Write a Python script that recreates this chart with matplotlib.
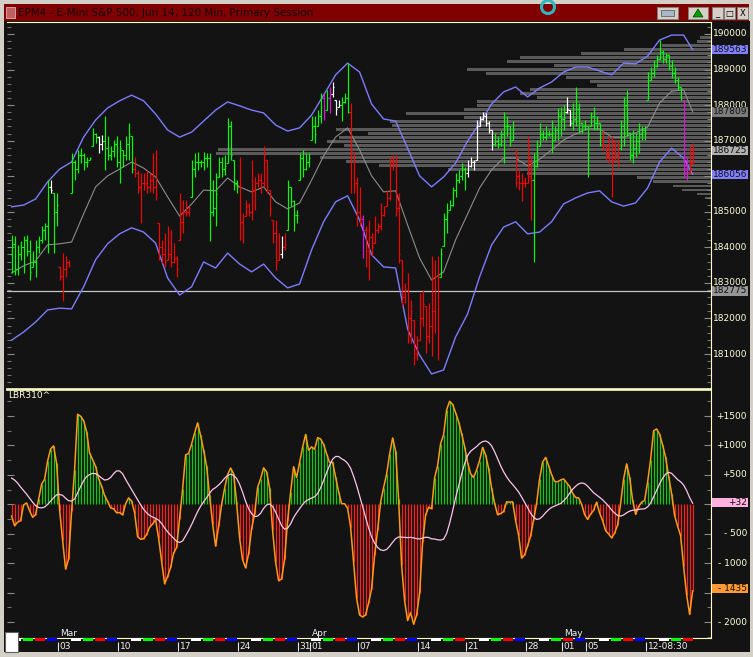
import numpy as np
import pandas as pd
import matplotlib
matplotlib.use("Agg")
import matplotlib.pyplot as plt
from matplotlib.patches import Rectangle, Ellipse, Polygon
from matplotlib.transforms import blended_transform_factory

W, H = 753, 657

# EPM4 120 min bars, primary session, 4 bars per day (Feb 25 - May 15 2014)
highs = [
    1843.5, 1843.1, 1840.7, 1841.7, 1843.1, 1843.5, 1842.1, 1838.9, 1842.1, 1843.1, 1845.9, 1846.8,
    1859.0, 1859.0, 1855.2, 1855.2, 1834.6, 1838.4, 1837.5, 1836.5, 1866.5, 1864.6, 1867.4, 1867.9,
    1866.5, 1865.5, 1865.5, 1873.5, 1872.1, 1871.2, 1871.6, 1876.8, 1871.2, 1868.4, 1870.2, 1871.2,
    1870.2, 1867.4, 1871.2, 1874.9, 1871.2, 1865.5, 1861.8, 1860.9, 1860.9, 1861.8, 1860.9, 1866.5,
    1867.4, 1846.8, 1842.1, 1844.0, 1845.9, 1844.9, 1841.2, 1837.5, 1855.2, 1853.4, 1853.4, 1851.5,
    1864.6, 1866.5, 1866.9, 1864.6, 1866.9, 1866.5, 1866.5, 1859.0, 1860.9, 1865.5, 1865.5, 1866.0,
    1876.3, 1875.4, 1864.6, 1859.0, 1865.5, 1849.6, 1853.4, 1852.4, 1864.6, 1859.9, 1860.9, 1860.9,
    1868.4, 1864.6, 1856.2, 1847.8, 1847.8, 1844.0, 1843.1, 1844.0, 1859.0, 1857.1, 1853.4, 1850.6,
    1866.5, 1867.4, 1866.5, 1866.5, 1876.8, 1876.8, 1878.7, 1883.3, 1883.3, 1884.3, 1885.2, 1886.6,
    1881.5, 1881.5, 1882.4, 1883.3, 1891.8, 1880.5, 1866.5, 1859.9, 1857.1, 1849.2, 1845.9, 1847.8,
    1844.0, 1848.7, 1846.8, 1852.4, 1851.5, 1856.2, 1865.5, 1866.0, 1866.0, 1855.2, 1836.5, 1830.0,
    1832.8, 1825.3, 1819.7, 1815.0, 1827.2, 1828.1, 1823.4, 1824.3, 1837.5, 1836.5, 1837.5, 1839.8,
    1849.6, 1852.4, 1853.4, 1857.1, 1860.9, 1861.8, 1863.7, 1862.7, 1864.6, 1865.5, 1864.6, 1875.8,
    1876.8, 1878.2, 1877.7, 1875.4, 1873.0, 1872.1, 1871.2, 1873.0, 1878.2, 1876.8, 1874.0, 1875.4,
    1867.4, 1861.8, 1860.9, 1859.9, 1871.2, 1865.5, 1866.5, 1870.2, 1874.9, 1873.0, 1874.0, 1873.0,
    1875.8, 1874.0, 1879.1, 1879.6, 1880.0, 1882.4, 1878.7, 1880.5, 1885.2, 1880.5, 1874.9, 1875.8,
    1874.0, 1878.2, 1879.6, 1876.8, 1874.9, 1872.6, 1868.8, 1871.2, 1871.2, 1870.2, 1870.2, 1875.8,
    1882.4, 1884.3, 1872.1, 1873.0, 1872.1, 1874.9, 1874.0, 1874.0, 1889.4, 1890.8, 1892.7, 1894.0,
    1898.3, 1895.5, 1894.6, 1894.1, 1892.7, 1890.8, 1888.0, 1885.2, 1881.5, 1865.5, 1868.4, 1869.3,
]
lows = [
    1832.8, 1832.3, 1832.3, 1836.5, 1832.8, 1837.5, 1830.9, 1834.6, 1831.8, 1838.4, 1841.2, 1842.1,
    1838.4, 1855.2, 1838.4, 1845.9, 1830.9, 1824.8, 1831.8, 1834.6, 1855.2, 1859.0, 1860.9, 1863.7,
    1861.8, 1862.7, 1864.6, 1868.4, 1869.3, 1866.5, 1867.4, 1861.8, 1864.6, 1864.6, 1865.5, 1862.7,
    1858.0, 1862.7, 1864.6, 1864.6, 1860.9, 1859.9, 1855.2, 1846.8, 1856.2, 1855.2, 1855.7, 1855.2,
    1853.4, 1836.5, 1835.6, 1834.6, 1836.5, 1834.6, 1835.6, 1831.8, 1842.1, 1844.0, 1848.7, 1848.7,
    1854.3, 1859.9, 1861.8, 1862.7, 1861.8, 1862.7, 1841.7, 1848.7, 1845.9, 1859.9, 1859.9, 1860.4,
    1863.7, 1864.6, 1856.2, 1855.2, 1842.1, 1841.2, 1848.7, 1848.7, 1847.8, 1850.6, 1857.1, 1855.2,
    1857.1, 1855.2, 1848.7, 1841.2, 1833.7, 1836.5, 1837.0, 1839.3, 1845.0, 1851.5, 1844.5, 1846.8,
    1859.0, 1859.9, 1861.8, 1862.7, 1870.2, 1869.3, 1874.0, 1874.9, 1875.8, 1878.7, 1877.7, 1882.4,
    1877.3, 1879.6, 1875.4, 1880.5, 1877.7, 1855.2, 1855.2, 1845.9, 1845.9, 1837.0, 1834.6, 1830.9,
    1837.5, 1841.2, 1844.0, 1845.0, 1848.7, 1851.5, 1853.4, 1861.8, 1848.7, 1835.6, 1823.4, 1824.4,
    1813.1, 1813.1, 1807.0, 1808.4, 1814.0, 1817.8, 1810.3, 1813.1, 1809.4, 1815.9, 1808.4, 1831.8,
    1840.3, 1844.0, 1850.6, 1851.5, 1854.3, 1858.0, 1859.0, 1856.2, 1859.9, 1862.7, 1861.8, 1864.6,
    1874.0, 1875.8, 1874.0, 1872.1, 1867.4, 1868.4, 1867.9, 1868.4, 1863.7, 1871.2, 1868.4, 1870.2,
    1857.1, 1856.2, 1852.9, 1857.1, 1858.0, 1847.8, 1836.0, 1862.7, 1868.4, 1870.2, 1870.2, 1871.2,
    1866.5, 1870.2, 1870.2, 1871.2, 1873.0, 1877.7, 1874.0, 1873.0, 1874.0, 1872.1, 1872.1, 1873.0,
    1859.9, 1874.0, 1873.0, 1873.0, 1868.4, 1867.4, 1864.6, 1863.7, 1854.3, 1864.6, 1862.7, 1867.4,
    1868.4, 1871.2, 1864.6, 1863.7, 1865.5, 1866.5, 1870.2, 1870.2, 1881.5, 1887.1, 1888.0, 1890.8,
    1892.7, 1891.8, 1891.8, 1890.0, 1887.5, 1886.1, 1884.3, 1881.5, 1859.9, 1859.0, 1860.9, 1863.7,
]
closes = [
    1841, 1834, 1838, 1840, 1842, 1839, 1833, 1836, 1840, 1842, 1845, 1846,
    1857, 1856, 1850, 1852, 1832, 1834, 1836, 1835, 1864, 1862, 1866, 1866,
    1864, 1864, 1865, 1872, 1871, 1869, 1870, 1868, 1866, 1867, 1869, 1864,
    1868, 1866, 1869, 1872, 1862, 1861, 1857, 1858, 1858, 1857, 1859, 1857,
    1855, 1840, 1838, 1836, 1838, 1836, 1837, 1834, 1847, 1850, 1850, 1851,
    1862, 1864, 1864, 1864, 1865, 1865, 1850, 1851, 1855, 1864, 1862, 1863,
    1874, 1866, 1858, 1857, 1847, 1845, 1852, 1850, 1856, 1858, 1859, 1858,
    1866, 1857, 1851, 1844, 1836, 1838, 1840, 1841, 1857, 1853, 1849, 1849,
    1865, 1862, 1864, 1865, 1874, 1872, 1877, 1882, 1878, 1882, 1883, 1885,
    1879, 1880, 1881, 1882, 1878, 1867, 1858, 1850, 1848, 1845, 1839, 1843,
    1840, 1845, 1846, 1849, 1850, 1854, 1864, 1864, 1851, 1838, 1826, 1828,
    1820, 1822, 1810, 1812, 1820, 1824, 1815, 1818, 1822, 1832, 1826, 1838,
    1848, 1850, 1852, 1856, 1859, 1860, 1862, 1861, 1863, 1864, 1864, 1874,
    1876, 1877, 1875, 1873, 1869, 1870, 1869, 1872, 1874, 1874, 1870, 1873,
    1860, 1858, 1858, 1858, 1860, 1859, 1863, 1866, 1872, 1871, 1872, 1872,
    1870, 1873, 1877, 1876, 1878, 1879, 1875, 1876, 1879, 1876, 1874, 1874,
    1872, 1877, 1875, 1875, 1870, 1869, 1866, 1865, 1864, 1866, 1868, 1874,
    1880, 1876, 1866, 1868, 1870, 1872, 1873, 1873, 1887, 1889, 1891, 1893,
    1895, 1893, 1894, 1891, 1889, 1887, 1885, 1882, 1863, 1861, 1862, 1867.25,
]
# g=green, r=red, w=white, m=magenta (paint bar colours)
bar_colors = ("gggggggggggg" "gwggrrrrgggg" "gggggwwggggg" "gggggrrrrrrr"
              "rrrrrrrrrrrr" "gggggggggggg" "ggggrrrrrrrr" "rrrrrrwrgggg"
              "ggggggggmgmw" "wwgggrrrrmrr" "rrrrrrrrrrrr" "rrrrrrrrrrrg"
              "ggggggggwwww" "wwwwwggggggg" "rrrrrrgggggg" "gggggwwggggg"
              "gggggrrrrrrg" "gggggggggggg" "ggggggggmmrr")
# closes before the first visible bar (the oscillator needs them)
warmup = [1812, 1816, 1820, 1818, 1823, 1826, 1830, 1827, 1822, 1818, 1815, 1820, 1826, 1830,
          1834, 1838, 1836, 1840, 1843, 1841, 1844, 1846, 1842, 1839, 1843, 1845, 1841, 1838]

# bands at every 4th bar (and the last bar)
band_upper = [1851.4, 1851.9, 1853.6, 1858.4, 1862.0, 1864.0, 1871.0, 1875.8, 1879.2, 1881.2,
              1882.8, 1881.2, 1877.5, 1873.0, 1871.0, 1872.4, 1875.5, 1878.6, 1880.9, 1879.8,
              1878.6, 1877.8, 1874.4, 1872.7, 1873.6, 1877.2, 1882.8, 1888.5, 1891.8, 1889.3,
              1880.3, 1876.1, 1875.5, 1867.9, 1860.1, 1857.0, 1859.8, 1863.7, 1869.9, 1874.9,
              1880.3, 1883.7, 1885.1, 1882.3, 1884.8, 1886.5, 1889.3, 1890.7, 1890.7, 1889.6,
              1888.5, 1891.8, 1891.6, 1893.8, 1898.3, 1899.7, 1899.7, 1895.6]
band_mid = [1832.8, 1834.8, 1836.2, 1840.7, 1841.0, 1841.5, 1849.4, 1857.0, 1860.1, 1862.0,
            1864.0, 1862.3, 1859.8, 1854.2, 1848.8, 1852.2, 1856.1, 1855.9, 1859.5, 1857.0,
            1855.6, 1857.0, 1852.8, 1850.8, 1852.5, 1858.9, 1865.7, 1871.0, 1873.6, 1867.4,
            1860.1, 1855.6, 1855.9, 1846.3, 1837.0, 1830.8, 1833.1, 1842.1, 1849.4, 1856.7,
            1861.8, 1865.1, 1865.1, 1862.9, 1864.8, 1867.4, 1870.2, 1871.9, 1873.3, 1873.3,
            1871.0, 1871.0, 1872.2, 1873.8, 1880.6, 1883.9, 1884.3, 1878.1]
band_lower = [1813.9, 1816.2, 1819.0, 1822.4, 1822.9, 1822.7, 1828.9, 1836.5, 1841.0, 1843.8,
              1845.5, 1844.3, 1841.2, 1831.4, 1826.6, 1828.9, 1835.9, 1834.2, 1838.4, 1835.3,
              1833.1, 1835.3, 1831.4, 1828.6, 1829.7, 1839.3, 1847.2, 1852.8, 1854.5, 1847.7,
              1837.9, 1834.5, 1834.2, 1817.0, 1809.7, 1804.4, 1805.5, 1814.8, 1821.3, 1831.7,
              1840.7, 1845.7, 1847.2, 1843.8, 1844.3, 1847.2, 1852.2, 1853.9, 1855.3, 1855.9,
              1852.8, 1851.6, 1852.5, 1856.7, 1864.0, 1867.9, 1865.1, 1860.6]

# volume profile (top level 1898.9, one row every 1.125 pts)
profile_top = 1898.9
profile_step = 1.125
profile_vol = [11, 14, 49, 87, 130, 191, 204, 157, 244, 225, 145, 121, 114, 181, 191, 174,
               234, 234, 247, 305, 247, 321, 319, 375, 343, 372, 384, 367, 493, 495, 391, 365,
               332, 263, 184, 74, 58, 38, 29, 14, 6]

hline_price = 1827.75
price_ticks = [1900, 1890, 1880, 1870, 1850, 1840, 1830, 1820, 1810]
price_boxes = [(1895.63, "189563", "#8080ff"), (1878.09, "187809", "#7c7c7c"),
               (1867.25, "186725", "#b0b0b0"), (1860.56, "186056", "#8080ff"),
               (1827.75, "182775", "#969696")]
osc_ticks = [1500, 1000, 500, -500, -1000, -2000]
osc_boxes = [(32, "+32", "#ffb0e0"), (-1435, "- 1435", "#ff9933")]
week_ticks = [("2014-03-03", "03"), ("2014-03-10", "10"), ("2014-03-17", "17"),
              ("2014-03-24", "24"), ("2014-03-31", "31"), ("2014-04-01", "01"),
              ("2014-04-07", "07"), ("2014-04-14", "14"), ("2014-04-21", "21"),
              ("2014-04-28", "28"), ("2014-05-01", "01"), ("2014-05-05", "05"),
              ("2014-05-12", "12-08:30")]
months = [("2014-03-03", "Mar"), ("2014-04-01", "Apr"), ("2014-05-01", "May")]

days = pd.bdate_range("2014-02-25", "2014-05-15")
days = days[days != pd.Timestamp("2014-04-18")]
day_colors = {1: "#ffffff", 2: "#00ff00", 3: "#ff0000", 4: "#0000ff"}

# ---- indicators ----
closes = np.array(closes, dtype=float)
highs = np.array(highs)
lows = np.array(lows)
n = len(closes)
x = np.arange(n)
band_x = np.r_[np.arange(0, n, 4), n - 1]
s = pd.Series(np.r_[warmup, closes])
osc_all = (s.rolling(3).mean() - s.rolling(10).mean()) * 100
sig = osc_all.rolling(16).mean().values[-n:]
osc = osc_all.values[-n:]
opens = np.clip(np.r_[warmup[-1], closes[:-1]], lows, highs)

cmap = {"g": "#00ff00", "r": "#ff0000", "w": "#ffffff", "m": "#e010e0"}
cols = [cmap[c] for c in bar_colors]

BG = "#131313"
PALE = "#ffffc8"
TXT = "#ffffdc"

def fx(px):
    return px / W

def fy(py):
    return 1 - py / H

fig = plt.figure(figsize=(W / 100, H / 100), dpi=100, facecolor="#d4d0c8")

# window chrome
fig.add_artist(Rectangle((fx(4), fy(652)), 746 / W, 631 / H, transform=fig.transFigure,
                         facecolor=BG, edgecolor="none", zorder=-2))
fig.add_artist(Rectangle((fx(4), fy(21)), 745 / W, 17 / H, transform=fig.transFigure,
                         facecolor="#800000", edgecolor="none", zorder=-2))
fig.add_artist(Rectangle((fx(6), fy(18)), 9 / W, 11 / H, transform=fig.transFigure,
                         facecolor="#c06060", edgecolor="#e0b0b0", lw=0.6, zorder=-1))
fig.text(fx(18), fy(13), "EPM4 - E-Mini S&P 500, Jun 14, 120 Min, Primary Session",
         color="#150000", fontsize=7.5, va="center", ha="left")
for bx, bw in [(657, 21), (688, 20), (712, 11), (724, 11), (737, 11)]:
    fig.add_artist(Rectangle((fx(bx), fy(19)), bw / W, 12 / H, transform=fig.transFigure,
                             facecolor="#d4d0c8", edgecolor="#808080", lw=0.6, zorder=-1))
fig.add_artist(Rectangle((fx(661), fy(16)), 13 / W, 6 / H, transform=fig.transFigure,
                         facecolor="#a8b8c8", edgecolor="#505050", lw=0.5, zorder=-1))
fig.add_artist(Polygon([[fx(698), fy(9)], [fx(693), fy(17)], [fx(703), fy(17)]],
                       closed=True, transform=fig.transFigure, facecolor="#00a000",
                       edgecolor="#004000", lw=0.5))
for bx, g in [(717.5, "_"), (729.5, "\u25a1"), (742.5, "X")]:
    fig.text(fx(bx), fy(13.5), g, color="black", fontsize=6, ha="center", va="center")
fig.add_artist(Ellipse((fx(548), fy(7)), 13 / W, 13 / H, transform=fig.transFigure,
                       facecolor="none", edgecolor="#30b8c0", lw=2.2))

# ---- price panel ----
ax = fig.add_axes([fx(7), fy(389), 704 / W, 367 / H], facecolor=BG)
xmin, xmax = -1.53, 233.13
ax.set_xlim(xmin, xmax)
ax.set_ylim(1800.17, 1903.37)

levels = profile_top - profile_step * np.arange(len(profile_vol))
widths = np.array(profile_vol) / 3.0
ax.barh(levels, widths, left=xmax - widths, height=0.8, color="#5a5a5a", zorder=1)
ax.axhline(hline_price, color="#c4c4c4", lw=0.9, zorder=2)
ax.plot(band_x, band_upper, color="#7c7cff", lw=1.0, zorder=3)
ax.plot(band_x, band_lower, color="#7c7cff", lw=1.0, zorder=3)
ax.plot(band_x, band_mid, color="#8c8c8c", lw=0.8, zorder=3)
ax.vlines(x, lows, highs, colors=cols, lw=0.85, zorder=4)
ax.hlines(closes, x, x + 0.6, colors=cols, lw=0.85, zorder=4)
ax.hlines(opens, x - 0.6, x, colors=cols, lw=0.85, zorder=4)

ax.set_xticks([])
ax.yaxis.set_ticks_position("both")
ax.set_yticks(np.arange(1802, 1904, 2), minor=True)
ax.set_yticks(np.arange(1810, 1901, 10))
ax.tick_params(axis="y", which="both", direction="in", colors="#8a8a8a",
               labelright=False, labelleft=False)
ax.tick_params(axis="y", which="major", length=5)
ax.tick_params(axis="y", which="minor", length=3)
for side in ["top", "right", "bottom"]:
    ax.spines[side].set_color(PALE)
ax.spines["left"].set_visible(False)
ax.spines["bottom"].set_linewidth(1.2)

tp = blended_transform_factory(fig.transFigure, ax.transData)
for p in price_ticks:
    ax.text(fx(747), p, str(p * 100), transform=tp, ha="right", va="center",
            color=TXT, fontsize=6.5)
for val, lab, c in price_boxes:
    ax.add_artist(Rectangle((fx(712), val - 1.3), 36 / W, 2.6, transform=tp,
                            facecolor=c, edgecolor="none", clip_on=False, zorder=5))
    ax.text(fx(747), val, lab, transform=tp, ha="right", va="center",
            color="#101010", fontsize=6.5, zorder=6)

# ---- oscillator panel ----
ao = fig.add_axes([fx(7), fy(638), 704 / W, 248 / H], facecolor=BG)
ao.set_xlim(xmin, xmax)
ao.set_ylim(-2271, 1942)
ao.vlines(x, 0, osc, colors=np.where(osc >= 0, "#10c810", "#ff2020"), lw=0.9, zorder=2)
ao.plot(x, osc, color="#ff9a1a", lw=1.1, zorder=3)
ao.plot(x, sig, color="#ffc4ec", lw=0.9, zorder=4)
ao.set_xticks([])
ao.yaxis.set_ticks_position("both")
ao.set_yticks(np.arange(-2250, 1800, 250), minor=True)
ao.set_yticks(np.arange(-2000, 1600, 500))
ao.tick_params(axis="y", which="both", direction="in", colors="#8a8a8a",
               labelright=False, labelleft=False)
ao.tick_params(axis="y", which="major", length=5)
ao.tick_params(axis="y", which="minor", length=3)
for side in ["top", "right", "bottom"]:
    ao.spines[side].set_color(PALE)
ao.spines["left"].set_visible(False)
ao.spines["top"].set_linewidth(1.2)

to = blended_transform_factory(fig.transFigure, ao.transData)
for v in osc_ticks:
    lab = "+%d" % v if v > 0 else "- %d" % -v
    ao.text(fx(747), v, lab, transform=to, ha="right", va="center", color=TXT, fontsize=6.5)
for val, lab, c in osc_boxes:
    ao.add_artist(Rectangle((fx(712), val - 76), 36 / W, 152, transform=to,
                            facecolor=c, edgecolor="none", clip_on=False, zorder=5))
    ao.text(fx(747), val, lab, transform=to, ha="right", va="center",
            color="#101010", fontsize=6.5, zorder=6)
fig.text(fx(8), fy(396), "LBR310^", color=TXT, fontsize=6.5, ha="left", va="center")

# ---- date strip ----
ad = fig.add_axes([fx(7), fy(652), 704 / W, 14 / H], facecolor=BG)
ad.set_xlim(xmin, xmax)
ad.set_ylim(14, 0)
ad.axis("off")
for d, day in enumerate(days):
    c = day_colors.get(day.weekday())
    if c:
        ad.add_patch(Rectangle((4 * d - 0.5 + 0.35, 0.4), 3.3, 2.4, facecolor=c,
                               edgecolor="none"))
tm = blended_transform_factory(ao.transData, fig.transFigure)
for ds, lab in week_ticks:
    pos = days.get_loc(pd.Timestamp(ds)) * 4 - 0.5
    ad.vlines(pos, 4, 13, color="#e8e8e8", lw=0.8)
    ad.text(pos + 0.5, 8.5, lab, color="#f0f0f0", fontsize=6.5, ha="left", va="center")
for ds, lab in months:
    pos = days.get_loc(pd.Timestamp(ds)) * 4 - 0.5
    ao.text(pos + 0.7, fy(633.5), lab, transform=tm, color="#f0f0f0", fontsize=6.5,
            ha="left", va="center")

fig.add_artist(Rectangle((fx(5), fy(652)), 13 / W, 20 / H, transform=fig.transFigure,
                         facecolor="white", edgecolor="#606060", lw=0.8, zorder=10))

fig.savefig("out.png", dpi=100, facecolor=fig.get_facecolor())
